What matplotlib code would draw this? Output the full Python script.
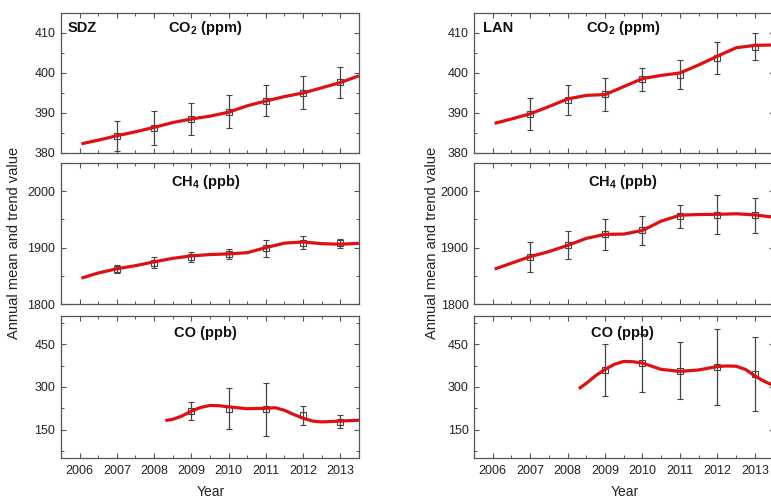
import matplotlib
matplotlib.use("Agg")
import matplotlib.pyplot as plt
from matplotlib.ticker import MultipleLocator
import numpy as np

plt.rcParams['font.family'] = ['Liberation Sans', 'DejaVu Sans']

# ---- data ----
years = [2007, 2008, 2009, 2010, 2011, 2012, 2013]
co_years = [2009, 2010, 2011, 2012, 2013]
trend_x = [2006.05, 2006.5, 2007, 2007.5, 2008, 2008.5, 2009, 2009.5, 2010,
           2010.5, 2011, 2011.5, 2012, 2012.5, 2013, 2013.5]
co_trend_x_sdz = [2008.3, 2008.5, 2008.75, 2009, 2009.25, 2009.5, 2009.75, 2010,
                  2010.5, 2011, 2011.25, 2011.5, 2011.75, 2012, 2012.25,
                  2012.5, 2013, 2013.5]
co_trend_x_lan = [2008.3, 2008.5, 2008.75, 2009, 2009.25, 2009.5, 2009.75, 2010,
                  2010.5, 2011, 2011.5, 2012, 2012.25, 2012.5, 2012.75, 2013,
                  2013.25, 2013.5]

# SDZ
sdz_co2 = [384.3, 386.3, 388.5, 390.3, 393.1, 395.1, 397.7]
sdz_co2_err = [3.8, 4.3, 4.1, 4.1, 3.9, 4.2, 3.9]
sdz_co2_trend = [382.3, 383.2, 384.3, 385.3, 386.4, 387.6, 388.5, 389.2, 390.2,
                 391.8, 393.0, 394.1, 395.0, 396.3, 397.6, 399.3]
sdz_ch4 = [1862.5, 1873.6, 1883.6, 1888.3, 1898.8, 1908.8, 1907.6]
sdz_ch4_err = [7, 9.5, 9.5, 8.5, 15, 11, 8]
sdz_ch4_trend = [1846, 1855, 1862.5, 1868, 1874.8, 1881, 1885.3, 1887.7, 1888.9,
                 1891, 1900, 1908, 1910, 1907, 1906, 1907.6]
sdz_co = [215, 223, 221, 200, 177]
sdz_co_err = [31, 72, 93, 34, 23]
sdz_co_trend = [182, 186, 198, 215, 228, 235, 234, 230, 223.5, 225, 227, 218,
                203, 190, 180, 177, 180, 183]

# LAN
lan_co2 = [389.8, 393.3, 394.7, 398.4, 399.6, 403.8, 406.6]
lan_co2_err = [4.0, 3.7, 4.1, 2.9, 3.6, 4.0, 3.4]
lan_co2_trend = [387.4, 388.5, 389.8, 391.6, 393.5, 394.4, 394.6, 396.6, 398.6,
                 399.4, 400.0, 402.0, 404.2, 406.3, 406.9, 407.0]
lan_ch4 = [1883.6, 1904.7, 1923.5, 1931, 1955.7, 1958.7, 1957.5]
lan_ch4_err = [27, 25.5, 27, 25.5, 20.5, 34.5, 31]
lan_ch4_trend = [1862, 1872.4, 1884, 1893, 1904, 1916.4, 1923.5, 1924, 1930.5,
                 1947, 1957.5, 1958.7, 1959, 1960, 1958, 1954]
lan_co = [359, 383, 357, 371, 346]
lan_co_err = [92, 102, 101, 133, 130]
lan_co_trend = [294, 313, 340, 362, 380, 390, 389, 384, 362, 355, 360, 372,
                374, 373, 362, 339, 320, 305]

labels_x = [2006, 2007, 2008, 2009, 2010, 2011, 2012, 2013]

fig = plt.figure(figsize=(7.71, 4.97), dpi=100)

col_x = [0.0791, 0.6148]
col_w = [0.3865, 0.3885]
rows = [(0.6922, 0.2817), (0.3883, 0.2837), (0.0785, 0.2857)]

spine_col = '#555555'
err_col = '#444444'
red = '#dd1111'

stations = ['SDZ', 'LAN']
title_xfrac = [0.485, 0.497]
data = {
    'SDZ': [(years, sdz_co2, sdz_co2_err, trend_x, sdz_co2_trend),
            (years, sdz_ch4, sdz_ch4_err, trend_x, sdz_ch4_trend),
            (co_years, sdz_co, sdz_co_err, co_trend_x_sdz, sdz_co_trend)],
    'LAN': [(years, lan_co2, lan_co2_err, trend_x, lan_co2_trend),
            (years, lan_ch4, lan_ch4_err, trend_x, lan_ch4_trend),
            (co_years, lan_co, lan_co_err, co_trend_x_lan, lan_co_trend)],
}
titles = [r'CO$_\mathregular{2}$ (ppm)', r'CH$_\mathregular{4}$ (ppb)', 'CO (ppb)']
ylims = [(380, 415), (1800, 2050), (50, 550)]
ymaj = [10, 100, 150]
ymin = [5, 50, 75]
title_y = [0.89, 0.865, 0.88]

for c, st in enumerate(stations):
    for r in range(3):
        y0, h = rows[r]
        ax = fig.add_axes([col_x[c], y0, col_w[c], h])
        xs, vals, errs, tx, ty = data[st][r]
        ax.errorbar(xs, vals, yerr=errs, fmt='s', ms=5, mfc='none',
                    mec=err_col, mew=0.8, ecolor=err_col, elinewidth=0.9,
                    capsize=2.2, capthick=0.9, zorder=2)
        ax.plot(tx, ty, color=red, lw=2.3, zorder=3, solid_capstyle='butt',
                solid_joinstyle='round')
        ax.set_xlim(2005.5, 2013.5)
        ax.set_ylim(*ylims[r])
        ax.xaxis.set_major_locator(MultipleLocator(1))
        ax.xaxis.set_minor_locator(MultipleLocator(0.5))
        ax.yaxis.set_major_locator(MultipleLocator(ymaj[r]))
        ax.yaxis.set_minor_locator(MultipleLocator(ymin[r]))
        ax.tick_params(which='both', direction='in', top=True, right=True,
                       color=spine_col, labelsize=9, labelcolor='#222222')
        ax.tick_params(which='major', length=3.5, width=0.8)
        ax.tick_params(which='minor', length=2, width=0.7)
        ax.tick_params(axis='y', pad=4)
        ax.tick_params(axis='x', pad=5)
        for s in ax.spines.values():
            s.set_color(spine_col)
            s.set_linewidth(0.9)
        if r < 2:
            ax.set_xticklabels([])
        else:
            ax.set_xticks(labels_x)
            ax.set_xticklabels([str(v) for v in labels_x])
        ax.text(title_xfrac[c], title_y[r], titles[r], transform=ax.transAxes,
                ha='center', va='center', fontsize=10.5, fontweight='bold',
                color='#111111')
        if r == 0:
            ax.text(0.022 if c == 0 else 0.03, 0.89, st, transform=ax.transAxes,
                    ha='left', va='center', fontsize=10.5, fontweight='bold',
                    color='#111111')

fig.text(0.018, 0.512, 'Annual mean and trend value', rotation=90,
         ha='center', va='center', fontsize=10.5, color='#222222')
fig.text(0.560, 0.512, 'Annual mean and trend value', rotation=90,
         ha='center', va='center', fontsize=10.5, color='#222222')
fig.text(211 / 771, 0.011, 'Year', ha='center', va='center', fontsize=10,
         color='#222222')
fig.text(625 / 771, 0.011, 'Year', ha='center', va='center', fontsize=10,
         color='#222222')

fig.savefig('out.png', dpi=100)
